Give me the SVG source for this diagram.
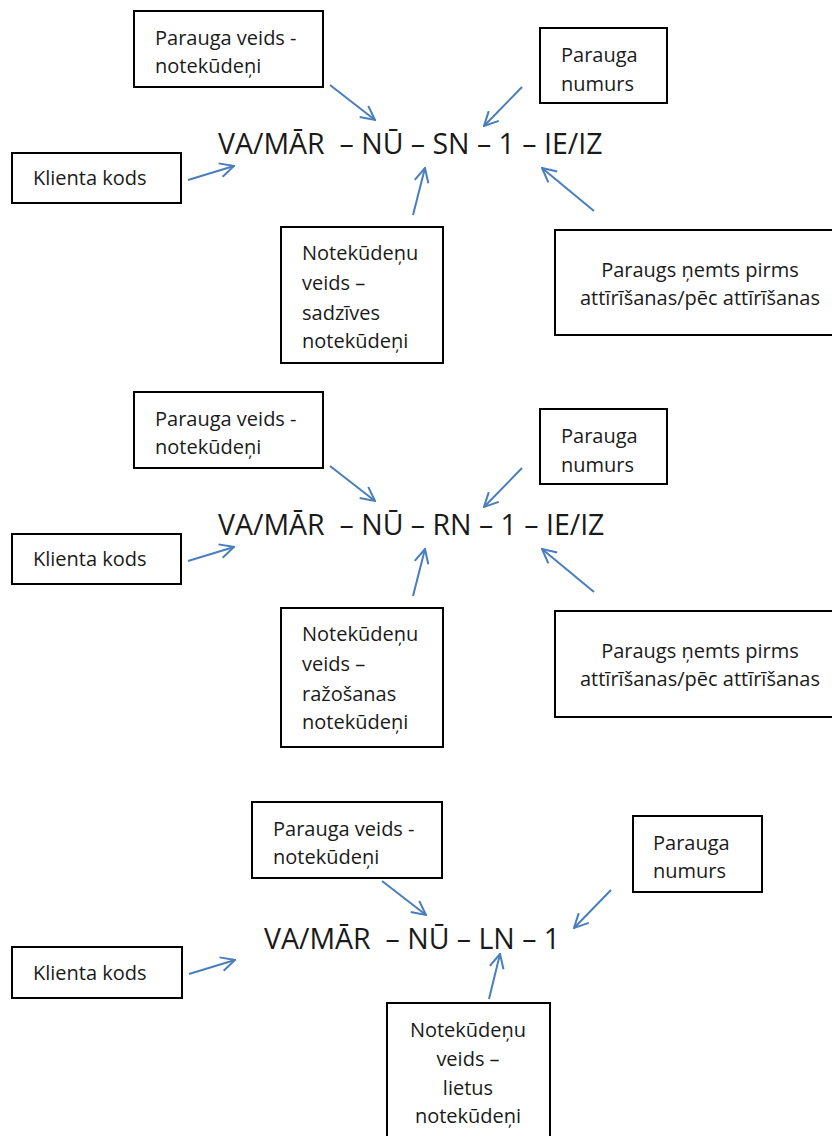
<svg xmlns="http://www.w3.org/2000/svg" width="832" height="1136" viewBox="0 0 832 1136">
<style>
.box{fill:#fff;stroke:#000;stroke-width:2}
.t{font-family:"Open Sans","Noto Sans","DejaVu Sans",sans-serif;font-size:20px;fill:#1a1a1a}
.c{text-anchor:middle}
.main{font-family:"Open Sans","Noto Sans","DejaVu Sans",sans-serif;font-size:28.5px;fill:#1a1a1a;white-space:pre}
.ar{stroke:#4a7ebb;stroke-width:2;fill:none;marker-end:url(#ah)}
</style>
<defs>
<marker id="ah" viewBox="0 0 16 16" refX="15" refY="8" markerWidth="16" markerHeight="16" markerUnits="userSpaceOnUse" orient="auto">
<path d="M1,1 L15,8 L1,15" fill="none" stroke="#4a7ebb" stroke-width="2"/>
</marker>
</defs>
<rect width="832" height="1136" fill="#fff"/>

<!-- Section 1 -->
<g id="s1-main"><text class="main" x="218" y="154" xml:space="preserve">VA/MĀR  – NŪ – SN – 1 – IE/IZ</text></g>
<g id="s1-veids"><rect class="box" x="134" y="11" width="189" height="76"/><text class="t" x="155" y="45">Parauga veids -</text><text class="t" x="155" y="73">notekūdeņi</text></g>
<g id="s1-numurs"><rect class="box" x="540" y="28" width="127" height="75"/><text class="t" x="561" y="62">Parauga</text><text class="t" x="561" y="91">numurs</text></g>
<g id="s1-klienta"><rect class="box" x="12" y="153" width="169" height="50"/><text class="t" x="33" y="185">Klienta kods</text></g>
<g id="s1-noteku"><rect class="box" x="281" y="227" width="162" height="136"/><text class="t" x="302" y="260">Notekūdeņu</text><text class="t" x="302" y="290">veids –</text><text class="t" x="302" y="320">sadzīves</text><text class="t" x="302" y="348">notekūdeņi</text></g>
<g id="s1-paraugs"><rect class="box" x="555" y="230" width="290" height="105"/><text class="t c" x="700" y="277">Paraugs ņemts pirms</text><text class="t c" x="700" y="305">attīrīšanas/pēc attīrīšanas</text></g>

<!-- Section 2 -->
<g id="s2-main"><text class="main" x="218" y="535" xml:space="preserve">VA/MĀR  – NŪ – RN – 1 – IE/IZ</text></g>
<g id="s2-veids"><rect class="box" x="134" y="392" width="189" height="76"/><text class="t" x="155" y="426">Parauga veids -</text><text class="t" x="155" y="454">notekūdeņi</text></g>
<g id="s2-numurs"><rect class="box" x="540" y="409" width="127" height="75"/><text class="t" x="561" y="443">Parauga</text><text class="t" x="561" y="472">numurs</text></g>
<g id="s2-klienta"><rect class="box" x="12" y="534" width="169" height="50"/><text class="t" x="33" y="566">Klienta kods</text></g>
<g id="s2-noteku"><rect class="box" x="281" y="608" width="162" height="139"/><text class="t" x="302" y="641">Notekūdeņu</text><text class="t" x="302" y="671">veids –</text><text class="t" x="302" y="701">ražošanas</text><text class="t" x="302" y="729">notekūdeņi</text></g>
<g id="s2-paraugs"><rect class="box" x="555" y="611" width="290" height="106"/><text class="t c" x="700" y="658">Paraugs ņemts pirms</text><text class="t c" x="700" y="686">attīrīšanas/pēc attīrīšanas</text></g>

<!-- Section 3 -->
<g id="s3-main"><text class="main" x="264" y="949" xml:space="preserve">VA/MĀR  – NŪ – LN – 1</text></g>
<g id="s3-veids"><rect class="box" x="252" y="802" width="190" height="76"/><text class="t" x="273" y="836">Parauga veids -</text><text class="t" x="273" y="864">notekūdeņi</text></g>
<g id="s3-numurs"><rect class="box" x="633" y="816" width="129" height="76"/><text class="t" x="653" y="850">Parauga</text><text class="t" x="653" y="878">numurs</text></g>
<g id="s3-klienta"><rect class="box" x="12" y="947" width="170" height="51"/><text class="t" x="33" y="980">Klienta kods</text></g>
<g id="s3-noteku"><rect class="box" x="387" y="1003" width="163" height="150"/><text class="t c" x="468" y="1037">Notekūdeņu</text><text class="t c" x="468" y="1066">veids –</text><text class="t c" x="468" y="1095">lietus</text><text class="t c" x="468" y="1123">notekūdeņi</text></g>

<g id="connectors">
<line class="ar" x1="330" y1="85" x2="375" y2="120"/>
<line class="ar" x1="188" y1="180" x2="234" y2="166"/>
<line class="ar" x1="413" y1="215" x2="425" y2="168"/>
<line class="ar" x1="522" y1="87" x2="484" y2="126"/>
<line class="ar" x1="594" y1="211" x2="542" y2="168"/>

<line class="ar" x1="330" y1="466" x2="375" y2="501"/>
<line class="ar" x1="188" y1="561" x2="234" y2="547"/>
<line class="ar" x1="413" y1="596" x2="425" y2="549"/>
<line class="ar" x1="522" y1="468" x2="484" y2="507"/>
<line class="ar" x1="594" y1="592" x2="542" y2="549"/>

<line class="ar" x1="382" y1="881" x2="426" y2="915"/>
<line class="ar" x1="189" y1="974" x2="235" y2="960"/>
<line class="ar" x1="489" y1="999" x2="500" y2="954"/>
<line class="ar" x1="611" y1="890" x2="574" y2="928"/>
</g>
</svg>
